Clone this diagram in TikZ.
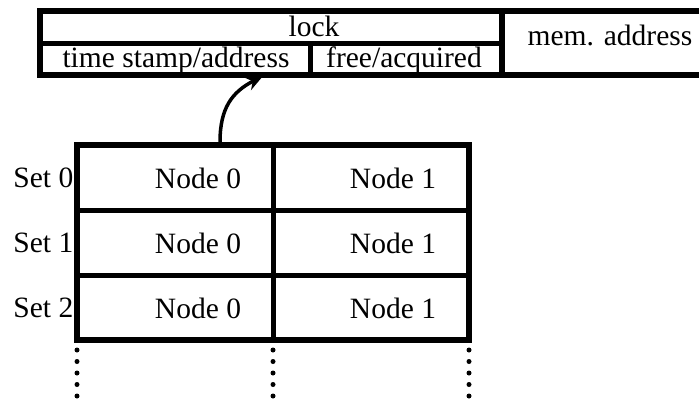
\documentclass[tikz,border=0pt]{standalone}
\usepackage{fontspec}
\setmainfont{Liberation Serif}
\usetikzlibrary{arrows.meta}
\begin{document}
\begin{tikzpicture}[x=1pt,y=-1pt,
  txt/.style={inner sep=0pt, font=\fontsize{29.5}{32}\selectfont},
  frame/.style={line width=6pt},
  rule/.style={line width=5pt},
  dotcol/.style={line width=5pt, line cap=round, dash pattern=on 0pt off 11.5pt}]
\useasboundingbox[fill=white] (0,0) rectangle (699,402);
% top structure
\draw[frame] (40,11) rectangle (720,75);
\draw[rule] (40,43) -- (502,43);
\draw[rule] (310.5,43) -- (310.5,75);
\draw[frame] (502,11) -- (502,75);
\node[txt] (lock) at (314,26) {lock};
\node[txt] (ts) at (176,60) {time stamp/address};
\node[txt] (fa) at (404,60) {free/acquired};
\node[txt] (mem) at (610,35) {mem. address};
% table
\draw[frame] (77,145) rectangle (469,340);
\draw[rule] (77,210) -- (469,210);
\draw[rule] (77,275) -- (469,275);
\draw[rule] (273,145) -- (273,340);
\foreach \r/\y in {0/178,1/243,2/308}{
  \node[txt, anchor=east] (set\r) at (73.5,\y) {Set \r};
  \node[txt] (n\r a) at (198,\y) {Node 0};
  \node[txt] (n\r b) at (393,\y) {Node 1};
}
% dots
\foreach \x in {77,273,469}{
  \draw[dotcol] (\x,350) -- (\x,398);
}
% arrow
\coordinate (from) at (220,142);
\coordinate (to) at (263,76);
\draw[line width=3.5pt, -{Stealth[length=17pt,width=14pt]}] (from) .. controls (220,108) and (232,92) .. (to);
\end{tikzpicture}
\end{document}
